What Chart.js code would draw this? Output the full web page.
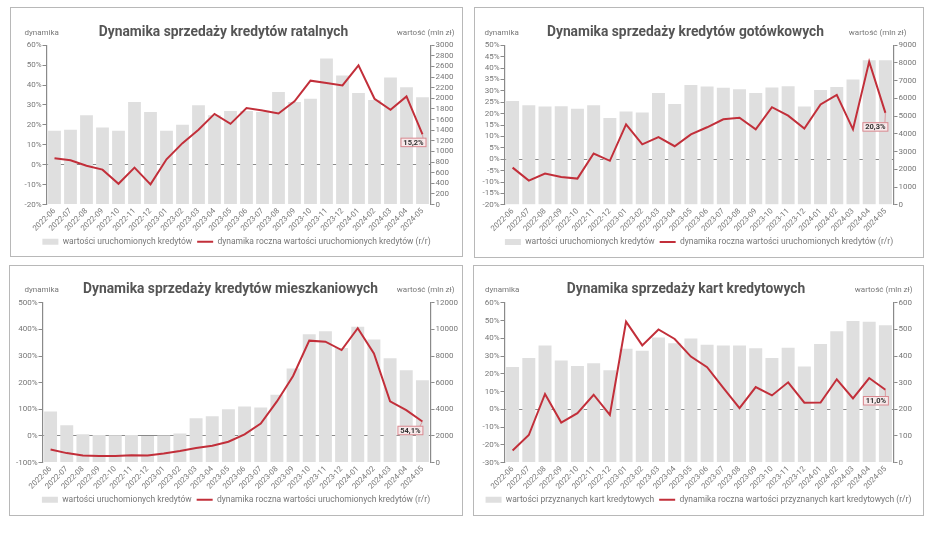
<!DOCTYPE html>
<html lang="pl">
<head>
<meta charset="utf-8">
<script src="https://cdn.jsdelivr.net/npm/chart.js@4.4.1/dist/chart.umd.min.js"></script>
<style>
html, body { margin: 0; padding: 0; background: #fff; }
body { width: 948px; height: 537px; position: relative; overflow: hidden; }
.panel { position: absolute; box-sizing: border-box; border: 1.5px solid #b8b8b8; background: #fff; }
.panel canvas { display: block; }
</style>
</head>
<body>
<div class="panel" style="left:10px;top:7px;width:453px;height:250px"><canvas id="c1"></canvas></div>
<div class="panel" style="left:474px;top:7px;width:450px;height:251px"><canvas id="c2"></canvas></div>
<div class="panel" style="left:9px;top:265px;width:454px;height:251px"><canvas id="c3"></canvas></div>
<div class="panel" style="left:473px;top:265px;width:451px;height:251px"><canvas id="c4"></canvas></div>
<script>
var miesiace = ["2022-06", "2022-07", "2022-08", "2022-09", "2022-10", "2022-11", "2022-12",
    "2023-01", "2023-02", "2023-03", "2023-04", "2023-05", "2023-06", "2023-07", "2023-08",
    "2023-09", "2023-10", "2023-11", "2023-12", "2024-01", "2024-02", "2024-03", "2024-04", "2024-05"];

// kredyty ratalne (mln zł / % r/r)
var ratalneWartosc = [1390, 1410, 1680, 1450, 1390, 1930, 1740, 1390, 1500, 1870, 1680, 1760,
    1760, 1740, 2120, 1930, 1990, 2750, 2430, 2100, 1970, 2390, 2210, 2020];
var ratalneDynamika = [3.2, 2.2, -0.5, -2.5, -9.6, -1.5, -9.9, 2.7, 10.8, 17.5, 25.5, 20.5,
    28.4, 27.2, 25.7, 31.8, 42.2, 41.0, 39.8, 49.9, 33.1, 27.6, 34.3, 15.2];

// kredyty gotówkowe
var gotowkoweWartosc = [5850, 5620, 5540, 5560, 5410, 5620, 4900, 5260, 5200, 6300, 5690, 6750,
    6670, 6600, 6520, 6300, 6620, 6690, 5540, 6470, 6640, 7070, 8150, 8150];
var gotowkoweDynamika = [-3.7, -9.4, -6.3, -7.8, -8.5, 2.5, -0.7, 15.3, 6.5, 9.7, 5.7, 10.9,
    14.0, 17.5, 18.2, 13.1, 22.8, 19.1, 13.4, 24.0, 28.2, 13.1, 42.8, 20.3];

// kredyty mieszkaniowe
var mieszkanioweWartosc = [3830, 2800, 2120, 2070, 2040, 2070, 1990, 2020, 2170, 3330, 3480, 4010,
    4210, 4130, 5090, 7060, 9630, 9860, 8600, 10200, 9240, 7830, 6940, 6180];
var mieszkanioweDynamika = [-50.8, -64.7, -73.5, -76.0, -76.0, -72.3, -73.5, -66.0, -57.1, -45.8, -36.9, -21.8,
    5.9, 46.3, 129.5, 225.3, 357.8, 354.0, 322.4, 404.4, 309.8, 129.5, 96.7, 54.1];

// karty kredytowe
var kartyWartosc = [359, 393, 440, 383, 363, 373, 347, 427, 420, 470, 448, 466,
    442, 440, 440, 429, 393, 431, 361, 445, 493, 532, 529, 516];
var kartyDynamika = [-23.2, -14.5, 8.6, -7.5, -2.2, 8.2, -3.2, 49.4, 36.0, 45.0, 39.6, 29.7,
    23.7, 12.0, 0.6, 12.5, 7.8, 15.2, 3.7, 3.8, 16.9, 6.1, 17.6, 11.0];

var FONT = "Roboto, 'DejaVu Sans', sans-serif";
var SZARY_SLUPEK = "#dfdfdf";
var CZERWONY = "#c22f3a";

// napisy nad wykresem: tytuł, "dynamika", "wartość (mln zł)"
var naglowekPlugin = {
    id: "naglowek",
    afterDraw: function (chart, args, opts) {
        var ctx = chart.ctx;
        ctx.save();
        ctx.textBaseline = "middle";
        ctx.fillStyle = "#555";
        ctx.font = "bold 13.8px " + FONT;
        ctx.textAlign = "center";
        ctx.fillText(opts.tytul, opts.tx, opts.ty);
        ctx.fillStyle = "#777";
        ctx.font = "8px " + FONT;
        ctx.textAlign = "left";
        ctx.fillText("dynamika", opts.lx, opts.ty);
        ctx.textAlign = "right";
        ctx.fillText("wartość (mln zł)", opts.rx, opts.ty);
        ctx.restore();
    }
};

// ramka z ostatnią wartością dynamiki
var etykietaPlugin = {
    id: "etykieta",
    afterDatasetsDraw: function (chart, args, opts) {
        var meta = chart.getDatasetMeta(1);
        var pt = meta.data[meta.data.length - 1];
        var ctx = chart.ctx;
        var cx = pt.x + opts.dx, cy = pt.y + opts.dy;
        var w = 25, h = 8.5;
        ctx.save();
        ctx.strokeStyle = "#d98990";
        ctx.lineWidth = 0.8;
        ctx.beginPath();
        ctx.moveTo(pt.x, pt.y);
        ctx.lineTo(cx + w / 2 - 3, cy - h / 2);
        ctx.stroke();
        ctx.fillStyle = "#f7e9ea";
        ctx.fillRect(cx - w / 2, cy - h / 2, w, h);
        ctx.lineWidth = 1;
        ctx.strokeRect(cx - w / 2, cy - h / 2, w, h);
        ctx.fillStyle = "#333";
        ctx.font = "bold 7.5px " + FONT;
        ctx.textAlign = "center";
        ctx.textBaseline = "middle";
        ctx.fillText(opts.tekst, cx, cy + 0.5);
        ctx.restore();
    }
};

function rysujPanel(id, p) {
    var ctx = document.getElementById(id).getContext("2d");
    return new Chart(ctx, {
        type: "bar",
        data: {
            labels: miesiace,
            datasets: [{
                label: p.legendaSlupki,
                data: p.wartosci,
                backgroundColor: SZARY_SLUPEK,
                borderWidth: 0,
                yAxisID: "y1",
                order: 2,
                pointStyle: "rect",
                categoryPercentage: 0.8,
                barPercentage: 1.0
            }, {
                type: "line",
                label: p.legendaLinia,
                data: p.dynamika,
                borderColor: CZERWONY,
                backgroundColor: CZERWONY,
                borderWidth: 2,
                tension: 0,
                pointRadius: 0,
                pointStyle: "line",
                yAxisID: "y",
                order: 1
            }]
        },
        options: {
            responsive: true,
            maintainAspectRatio: false,
            animation: false,
            layout: { padding: { top: p.gora, bottom: p.dol, left: 0, right: 0 } },
            scales: {
                x: {
                    grid: { display: false, drawTicks: false },
                    border: { display: false },
                    ticks: {
                        autoSkip: false,
                        minRotation: 45, maxRotation: 45, padding: 2,
                        color: "#777", font: { family: FONT, size: 7.8 }
                    },
                    afterFit: function (s) { s.height = 28; }
                },
                y: {
                    position: "left",
                    min: p.lewa[0], max: p.lewa[1],
                    grid: {
                        drawOnChartArea: true,
                        color: function (c) { return c.tick && c.tick.value === 0 ? "#8a8a8a" : "rgba(0,0,0,0)"; },
                        lineWidth: 1,
                        tickColor: "#8a8a8a",
                        tickLength: 4
                    },
                    border: { color: "#8a8a8a", width: 1.2 },
                    ticks: {
                        autoSkip: false,
                        stepSize: p.lewa[2], padding: 1,
                        color: "#777", font: { family: FONT, size: 8 },
                        callback: function (v) { return v + "%"; }
                    },
                    afterFit: function (s) { s.width = p.lewyMargines; }
                },
                y1: {
                    position: "right",
                    min: p.prawa[0], max: p.prawa[1],
                    grid: { drawOnChartArea: false, tickColor: "#8a8a8a", tickLength: 4 },
                    border: { color: "#8a8a8a", width: 1.2 },
                    ticks: {
                        autoSkip: false,
                        stepSize: p.prawa[2], padding: 1,
                        color: "#777", font: { family: FONT, size: 8 },
                        callback: function (v) { return String(v); }
                    },
                    afterFit: function (s) { s.width = p.prawyMargines; }
                }
            },
            plugins: {
                legend: {
                    position: "bottom",
                    labels: {
                        usePointStyle: true,
                        pointStyleWidth: 16,
                        boxHeight: 6,
                        padding: 5,
                        color: "#777",
                        font: { family: FONT, size: 8.5 },
                        sort: function (a, b) { return a.datasetIndex - b.datasetIndex; }
                    }
                },
                tooltip: { enabled: false },
                naglowek: p.naglowek,
                etykieta: p.etykieta
            }
        },
        plugins: [naglowekPlugin, etykietaPlugin]
    });
}

var legendaUruch = ["wartości uruchomionych kredytów", "dynamika roczna wartości uruchomionych kredytów (r/r)"];

rysujPanel("c1", {
    wartosci: ratalneWartosc, dynamika: ratalneDynamika,
    legendaSlupki: legendaUruch[0], legendaLinia: legendaUruch[1],
    lewa: [-20, 60, 10], prawa: [0, 3000, 200],
    lewyMargines: 35.5, prawyMargines: 31.5, gora: 37.2, dol: 0,
    naglowek: { tytul: "Dynamika sprzedaży kredytów ratalnych", tx: 212.5, ty: 24.5, lx: 13.5, rx: 443.5 },
    etykieta: { tekst: "15,2%", dx: -9, dy: 8 }
});

rysujPanel("c2", {
    wartosci: gotowkoweWartosc, dynamika: gotowkoweDynamika,
    legendaSlupki: legendaUruch[0], legendaLinia: legendaUruch[1],
    lewa: [-20, 50, 5], prawa: [0, 9000, 1000],
    lewyMargines: 29.5, prawyMargines: 29.5, gora: 37.2, dol: 0.7,
    naglowek: { tytul: "Dynamika sprzedaży kredytów gotówkowych", tx: 210.5, ty: 24.5, lx: 9.5, rx: 431.5 },
    etykieta: { tekst: "20,3%", dx: -10, dy: 14 }
});

rysujPanel("c3", {
    wartosci: mieszkanioweWartosc, dynamika: mieszkanioweDynamika,
    legendaSlupki: legendaUruch[0], legendaLinia: legendaUruch[1],
    lewa: [-100, 500, 100], prawa: [0, 12000, 2000],
    lewyMargines: 32.5, prawyMargines: 31.5, gora: 36.8, dol: 1,
    naglowek: { tytul: "Dynamika sprzedaży kredytów mieszkaniowych", tx: 220.5, ty: 23.5, lx: 14.5, rx: 444.5 },
    etykieta: { tekst: "54,1%", dx: -12, dy: 9 }
});

rysujPanel("c4", {
    wartosci: kartyWartosc, dynamika: kartyDynamika,
    legendaSlupki: "wartości przyznanych kart kredytowych",
    legendaLinia: "dynamika roczna wartości przyznanych kart kredytowych (r/r)",
    lewa: [-30, 60, 10], prawa: [0, 600, 100],
    lewyMargines: 30.5, prawyMargines: 29.5, gora: 36.8, dol: 1,
    naglowek: { tytul: "Dynamika sprzedaży kart kredytowych", tx: 212, ty: 23.5, lx: 11, rx: 438.5 },
    etykieta: { tekst: "11,0%", dx: -9.5, dy: 11 }
});
</script>
</body>
</html>
